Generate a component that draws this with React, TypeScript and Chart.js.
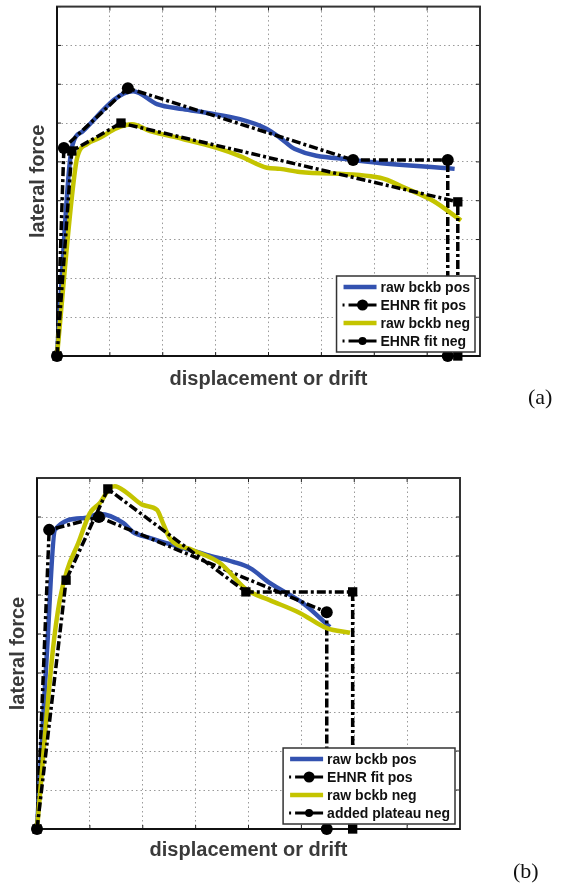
import React, { useEffect, useRef } from 'react';
import { Chart, registerables } from 'chart.js';
Chart.register(...registerables);

// ---------- panel (a) ----------
const aRawPosX = [0, 0.21, 0.28, 0.49, 1.44, 1.89, 2.38, 2.84, 3.46, 3.97, 4.22, 4.5, 5.6, 7.52];
const aRawPosY = [0, 4.51, 5.36, 5.79, 6.82, 6.49, 6.36, 6.26, 6.1, 5.85, 5.62, 5.33, 5.05, 4.82];
const aFitPosX = [0, 0.13, 1.34, 5.6, 7.39, 7.39];
const aFitPosY = [0, 5.36, 6.9, 5.05, 5.05, 0];
const aRawNegX = [0, 0.28, 0.38, 0.57, 0.81, 1.13, 1.42, 1.76, 2.38, 3.02, 3.46, 3.97, 4.22, 4.59, 6.11, 6.58, 7.11, 7.64];
const aRawNegY = [0, 4.08, 5.1, 5.46, 5.62, 5.87, 5.97, 5.79, 5.59, 5.36, 5.15, 4.85, 4.82, 4.74, 4.59, 4.33, 4.0, 3.49];
const aFitNegX = [0, 0.28, 1.21, 7.58, 7.58];
const aFitNegY = [0, 5.28, 6.0, 3.97, 0];
const aLabels = ['raw bckb pos', 'EHNR fit pos', 'raw bckb neg', 'EHNR fit neg'];

// ---------- panel (b) ----------
const bRawPosX = [0, 0.19, 0.34, 0.87, 1.19, 1.63, 1.81, 2.14, 2.76, 3.21, 3.71, 4.03, 4.4, 5.03, 5.54];
const bRawPosY = [0, 4.59, 7.67, 7.97, 8.08, 7.85, 7.62, 7.46, 7.21, 7.03, 6.85, 6.69, 6.31, 5.79, 5.18];
const bFitPosX = [0, 0.23, 1.17, 5.48, 5.48];
const bFitPosY = [0, 7.67, 8.0, 5.56, 0];
const bRawNegX = [0, 0.3, 0.43, 0.57, 0.78, 1.0, 1.19, 1.38, 1.47, 1.7, 2.0, 2.27, 2.38, 2.51, 2.95, 3.46, 3.97, 4.4, 4.97, 5.48, 5.92];
const bRawNegY = [0, 4.59, 5.87, 6.64, 7.33, 8.1, 8.36, 8.74, 8.79, 8.62, 8.31, 8.18, 7.85, 7.46, 7.15, 6.82, 6.13, 5.87, 5.54, 5.15, 5.03];
const bFitNegX = [0, 0.55, 1.34, 3.95, 5.97, 5.97];
const bFitNegY = [0, 6.38, 8.72, 6.08, 6.08, 0];
const bLabels = ['raw bckb pos', 'EHNR fit pos', 'raw bckb neg', 'added plateau neg'];

// axis grid extents (no tick labels shown)
const xGridMax = 8;
const yGridMax = 9;
const xTitle = 'displacement or drift';
const yTitle = 'lateral force';

const BLUE = '#3352b0';
const YELLOW = '#c4c400';
const FONT = '"Liberation Sans", Arial, Helvetica, sans-serif';

const zip = (xs: number[], ys: number[]) => xs.map((x, i) => ({ x, y: ys[i] }));

const framePlugin = {
  id: 'frameTicks',
  beforeDatasetsDraw(chart: any) {
    const { ctx, chartArea } = chart;
    const { left, right, top, bottom } = chartArea;
    ctx.save();
    ctx.strokeStyle = '#222';
    ctx.lineWidth = 1;
    const xs = chart.scales.x.ticks.map((t: any) => chart.scales.x.getPixelForValue(t.value));
    const ys = chart.scales.y.ticks.map((t: any) => chart.scales.y.getPixelForValue(t.value));
    ctx.beginPath();
    xs.forEach((x: number) => {
      ctx.moveTo(x, bottom); ctx.lineTo(x, bottom - 4);
      ctx.moveTo(x, top); ctx.lineTo(x, top + 4);
    });
    ys.forEach((y: number) => {
      ctx.moveTo(left, y); ctx.lineTo(left + 4, y);
      ctx.moveTo(right, y); ctx.lineTo(right - 4, y);
    });
    ctx.stroke();
    ctx.lineWidth = 2;
    ctx.strokeStyle = '#333';
    ctx.strokeRect(left, top, right - left, bottom - top);
    ctx.strokeStyle = '#111';
    ctx.beginPath();
    ctx.moveTo(left, top); ctx.lineTo(left, bottom); ctx.lineTo(right, bottom);
    ctx.stroke();
    ctx.restore();
  },
};

const legendPlugin = {
  id: 'boxLegend',
  afterDatasetsDraw(chart: any, _args: any, opts: any) {
    const { ctx, chartArea } = chart;
    const ds = chart.data.datasets;
    ctx.save();
    ctx.font = 'bold 14px ' + FONT;
    const textW = Math.max(...ds.map((d: any) => ctx.measureText(d.label).width));
    const padL = 7, sample = 33, gap = 4, padR = 5, rowH = 18, padV = 2;
    const w = padL + sample + gap + textW + padR;
    const h = ds.length * rowH + padV * 2;
    const x0 = chartArea.right - opts.right - w;
    const y0 = chartArea.bottom - opts.bottom - h;
    ctx.fillStyle = '#fff';
    ctx.fillRect(x0, y0, w, h);
    ctx.lineWidth = 1.5;
    ctx.strokeStyle = '#333';
    ctx.strokeRect(x0, y0, w, h);
    ds.forEach((d: any, i: number) => {
      const cy = y0 + padV + rowH * (i + 0.5);
      const sx = x0 + padL;
      if (d.borderDash && d.borderDash.length) {
        ctx.strokeStyle = '#000';
        ctx.lineWidth = 3;
        ctx.beginPath(); ctx.moveTo(sx - 1, cy); ctx.lineTo(sx + 1, cy); ctx.stroke();
        ctx.beginPath(); ctx.moveTo(sx + 5, cy); ctx.lineTo(sx + sample, cy); ctx.stroke();
        ctx.fillStyle = '#000';
        ctx.beginPath();
        ctx.arc(sx + 5 + (sample - 5) / 2, cy, opts.markers[i], 0, Math.PI * 2);
        ctx.fill();
      } else {
        ctx.strokeStyle = d.borderColor;
        ctx.lineWidth = 4.5;
        ctx.beginPath(); ctx.moveTo(sx, cy); ctx.lineTo(sx + sample, cy); ctx.stroke();
      }
      ctx.fillStyle = '#111';
      ctx.textBaseline = 'middle';
      ctx.textAlign = 'left';
      ctx.fillText(d.label, sx + sample + gap, cy + 1);
    });
    ctx.restore();
  },
};

function rawSet(label: string, data: any[], color: string, order: number) {
  return {
    label, data, borderColor: color, backgroundColor: color, borderWidth: 4.5,
    pointRadius: 0, cubicInterpolationMode: 'monotone', borderJoinStyle: 'round',
    order, clip: false,
  };
}
function fitSet(label: string, data: any[], style: string, radius: number, order: number) {
  return {
    label, data, borderColor: '#000', backgroundColor: '#000', borderWidth: 3.5,
    borderDash: [9, 3, 3, 3], tension: 0, pointStyle: style, pointRadius: radius,
    pointBorderWidth: 0, pointBackgroundColor: '#000', order, clip: false,
  };
}

function makeOptions(pad: any, yPad: any, xPad: any, legendOff: any) {
  const titleFont = { family: FONT, size: 20, weight: 'bold' as const, lineHeight: 1 };
  return {
    animation: false, responsive: false, devicePixelRatio: 1,
    layout: { padding: pad },
    plugins: { legend: { display: false }, tooltip: { enabled: false }, boxLegend: legendOff },
    scales: {
      x: {
        type: 'linear', min: 0, max: xGridMax,
        ticks: { display: false, stepSize: 1 },
        grid: { color: '#9a9a9a', lineWidth: 1, drawTicks: false },
        border: { display: false, dash: [1.5, 3] },
        title: { display: true, text: xTitle, font: titleFont, color: '#3a3a3a', padding: xPad },
      },
      y: {
        type: 'linear', min: 0, max: yGridMax,
        ticks: { display: false, stepSize: 1 },
        grid: { color: '#9a9a9a', lineWidth: 1, drawTicks: false },
        border: { display: false, dash: [1.5, 3] },
        title: { display: true, text: yTitle, font: titleFont, color: '#3a3a3a', padding: yPad },
      },
    },
  };
}

function Panel({ which }: { which: 'a' | 'b' }) {
  const ref = useRef<HTMLCanvasElement>(null);
  useEffect(() => {
    if (!ref.current) return;
    let cfg: any;
    if (which === 'a') {
      cfg = {
        type: 'line',
        data: {
          datasets: [
            rawSet(aLabels[0], zip(aRawPosX, aRawPosY), BLUE, 4),
            fitSet(aLabels[1], zip(aFitPosX, aFitPosY), 'circle', 6, 3),
            rawSet(aLabels[2], zip(aRawNegX, aRawNegY), YELLOW, 2),
            fitSet(aLabels[3], zip(aFitNegX, aFitNegY), 'rect', 6.6, 1),
          ],
        },
        options: makeOptions(
          { left: 0, top: 5, right: 81, bottom: 0 },
          { top: 28, bottom: 9 },
          { top: 13, bottom: 11 },
          { right: 5, bottom: 4, markers: [0, 5.5, 0, 4] },
        ),
        plugins: [framePlugin, legendPlugin],
      };
    } else {
      cfg = {
        type: 'line',
        data: {
          datasets: [
            rawSet(bLabels[0], zip(bRawPosX, bRawPosY), BLUE, 4),
            fitSet(bLabels[1], zip(bFitPosX, bFitPosY), 'circle', 6, 3),
            rawSet(bLabels[2], zip(bRawNegX, bRawNegY), YELLOW, 2),
            fitSet(bLabels[3], zip(bFitNegX, bFitNegY), 'rect', 6.6, 1),
          ],
        },
        options: makeOptions(
          { left: 0, top: 58, right: 101, bottom: 0 },
          { top: 8, bottom: 9 },
          { top: 11, bottom: 25 },
          { right: 5, bottom: 5, markers: [0, 5.5, 0, 4] },
        ),
        plugins: [framePlugin, legendPlugin],
      };
    }
    const chart = new Chart(ref.current, cfg);
    return () => chart.destroy();
  }, [which]);
  const h = which === 'a' ? 400 : 465;
  const top = which === 'a' ? 0 : 420;
  return (
    <canvas ref={ref} width={561} height={h}
      style={{ position: 'absolute', left: 0, top, width: 561, height: h }} />
  );
}

export default function App() {
  const lbl = { position: 'absolute' as const, fontFamily: '"Liberation Serif", "Times New Roman", serif', fontSize: 22, lineHeight: '22px', color: '#111' };
  return (
    <div style={{ position: 'absolute', left: 0, top: 0, width: 561, height: 885, background: '#fff', overflow: 'hidden' }}>
      <Panel which="a" />
      <Panel which="b" />
      <div style={{ ...lbl, left: 528, top: 386 }}>(a)</div>
      <div style={{ ...lbl, left: 513, top: 860 }}>(b)</div>
    </div>
  );
}
